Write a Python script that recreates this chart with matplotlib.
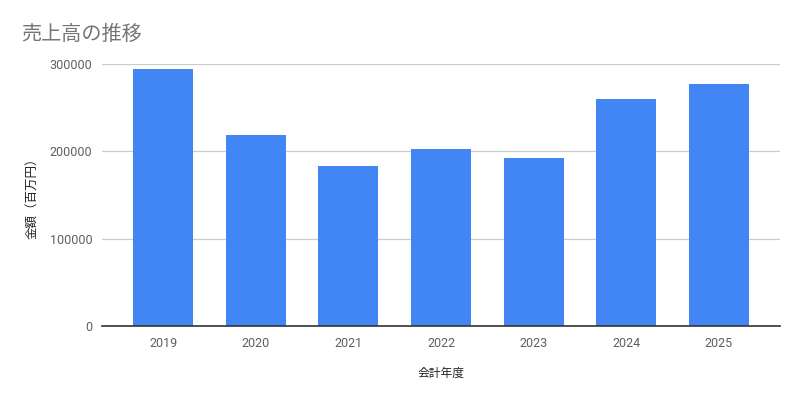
import matplotlib
matplotlib.use("Agg")
import matplotlib.pyplot as plt
import numpy as np

# data
years = ["2019", "2020", "2021", "2022", "2023", "2024", "2025"]
sales = [294500, 219000, 183000, 202800, 192300, 260000, 277200]
yticks = [0, 100000, 200000, 300000]

plt.rcParams['font.family'] = ['Roboto', 'Noto Sans CJK JP', 'DejaVu Sans']

fig = plt.figure(figsize=(8, 4), dpi=100)
ax = fig.add_axes([0.1275, 0.185, 0.8475, 0.655])

x = np.arange(len(years))
ax.bar(x, sales, width=0.65, color='#4285f4', zorder=3)

ax.set_xlim(-0.66, len(years) - 1 + 0.66)
ax.set_ylim(0, 300000)
ax.set_xticks(x)
ax.set_xticklabels(years)
ax.set_yticks(yticks)
ax.set_yticklabels([str(v) for v in yticks])
ax.tick_params(axis='both', length=0, labelsize=9, labelcolor='#5f5f5f')
ax.tick_params(axis='x', pad=8)
ax.tick_params(axis='y', pad=7)

ax.grid(axis='y', color='#cccccc', linewidth=0.9, zorder=0)
for side in ['top', 'right', 'left']:
    ax.spines[side].set_visible(False)
ax.spines['bottom'].set_color('#333333')
ax.spines['bottom'].set_linewidth(1.2)
ax.spines['bottom'].set_zorder(4)

ax.set_xlabel('会計年度', fontsize=8.5, color='#222222', labelpad=12)
ax.set_ylabel('金額（百万円）', fontsize=9, color='#222222', labelpad=8)

fig.text(0.026, 0.915, '売上高の推移', fontsize=14.5, color='#757575', va='center')

fig.savefig('out.png', dpi=100)
